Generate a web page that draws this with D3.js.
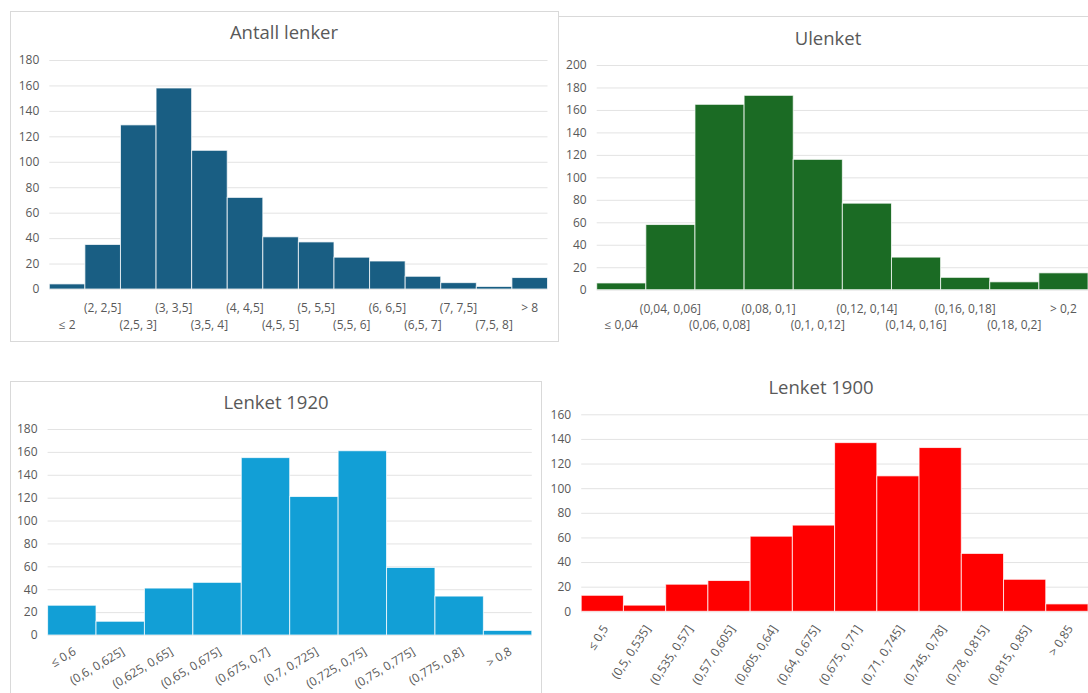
<!DOCTYPE html>
<html>
<head>
<meta charset="utf-8">
<script src="https://cdn.jsdelivr.net/npm/d3@7/dist/d3.min.js"></script>
<style>
  html, body { margin: 0; padding: 0; background: #fff; }
  svg { display: block; }
  text { font-family: "Open Sans", "Liberation Sans", sans-serif; fill: #595959; }
</style>
</head>
<body>
<svg id="chart" width="1088" height="693"></svg>
<script>
// ---------- DATA ----------
const antallCategories = ["≤ 2", "(2, 2,5]", "(2,5, 3]", "(3, 3,5]", "(3,5, 4]", "(4, 4,5]", "(4,5, 5]", "(5, 5,5]", "(5,5, 6]", "(6, 6,5]", "(6,5, 7]", "(7, 7,5]", "(7,5, 8]", "> 8"];
const antallValues = [4, 35, 129, 158, 109, 72, 41, 37, 25, 22, 10, 5, 2, 9];
const antallTicks = [0, 20, 40, 60, 80, 100, 120, 140, 160, 180];

const ulenketCategories = ["≤ 0,04", "(0,04, 0,06]", "(0,06, 0,08]", "(0,08, 0,1]", "(0,1, 0,12]", "(0,12, 0,14]", "(0,14, 0,16]", "(0,16, 0,18]", "(0,18, 0,2]", "> 0,2"];
const ulenketValues = [6, 58, 165, 173, 116, 77, 29, 11, 7, 15];
const ulenketTicks = [0, 20, 40, 60, 80, 100, 120, 140, 160, 180, 200];

const lenket1920Categories = ["≤ 0,6", "(0,6, 0,625]", "(0,625, 0,65]", "(0,65, 0,675]", "(0,675, 0,7]", "(0,7, 0,725]", "(0,725, 0,75]", "(0,75, 0,775]", "(0,775, 0,8]", "> 0,8"];
const lenket1920Values = [26, 12, 41, 46, 155, 121, 161, 59, 34, 4];
const lenket1920Ticks = [0, 20, 40, 60, 80, 100, 120, 140, 160, 180];

const lenket1900Categories = ["≤ 0,5", "(0,5, 0,535]", "(0,535, 0,57]", "(0,57, 0,605]", "(0,605, 0,64]", "(0,64, 0,675]", "(0,675, 0,71]", "(0,71, 0,745]", "(0,745, 0,78]", "(0,78, 0,815]", "(0,815, 0,85]", "> 0,85"];
const lenket1900Values = [13, 5, 22, 25, 61, 70, 137, 110, 133, 47, 26, 6];
const lenket1900Ticks = [0, 20, 40, 60, 80, 100, 120, 140, 160];

// ---------- LAYOUT ----------
const svg = d3.select("#chart");

const panels = [
  { title: "Antall lenker", cats: antallCategories, vals: antallValues, ticks: antallTicks,
    color: "#195E83", box: [10.5, 11.5, 548, 330], titleX: 284, titleY: 39,
    plot: { left: 49.3, right: 547.5, top: 60, bottom: 289 }, labels: "stagger", rows: [308, 325] },
  { title: "Ulenket", cats: ulenketCategories, vals: ulenketValues, ticks: ulenketTicks,
    color: "#1B6B24", topLine: [558.5, 1088, 16.5], titleX: 828, titleY: 45,
    plot: { left: 596.7, right: 1088, top: 65, bottom: 289.7 }, labels: "stagger", rows: [309, 325] },
  { title: "Lenket 1920", cats: lenket1920Categories, vals: lenket1920Values, ticks: lenket1920Ticks,
    color: "#129FD6", box: [10.5, 381.5, 531, 330], titleX: 276, titleY: 409,
    plot: { left: 47.6, right: 531.8, top: 429, bottom: 635 }, labels: "rotate", angle: -31 },
  { title: "Lenket 1900", cats: lenket1900Categories, vals: lenket1900Values, ticks: lenket1900Ticks,
    color: "#FF0000", titleX: 821, titleY: 394,
    plot: { left: 581.2, right: 1088, top: 414.3, bottom: 611.3 }, labels: "rotate", angle: -57 }
];

panels.forEach(p => {
  const g = svg.append("g");
  if (p.box) {
    g.append("rect")
      .attr("x", p.box[0]).attr("y", p.box[1])
      .attr("width", p.box[2]).attr("height", p.box[3])
      .attr("fill", "#fff").attr("stroke", "#d9d9d9").attr("stroke-width", 1);
  }
  if (p.topLine) {
    g.append("line")
      .attr("x1", p.topLine[0]).attr("x2", p.topLine[1])
      .attr("y1", p.topLine[2]).attr("y2", p.topLine[2])
      .attr("stroke", "#d9d9d9").attr("stroke-width", 1);
  }
  g.append("text")
    .attr("x", p.titleX).attr("y", p.titleY)
    .attr("text-anchor", "middle")
    .style("font-size", "18.5px")
    .text(p.title);

  const x = d3.scaleBand().domain(p.cats).range([p.plot.left, p.plot.right]).paddingInner(0).paddingOuter(0);
  const y = d3.scaleLinear().domain([0, d3.max(p.ticks)]).range([p.plot.bottom, p.plot.top]);

  // gridlines
  const grid = g.append("g")
    .attr("transform", `translate(${p.plot.left},0)`)
    .call(d3.axisLeft(y).tickValues(p.ticks).tickSize(-(p.plot.right - p.plot.left)).tickFormat(""));
  grid.select(".domain").remove();
  grid.selectAll("line").attr("stroke", "#e3e3e3").attr("stroke-width", 1);

  // y labels
  const yAx = g.append("g")
    .attr("transform", `translate(${p.plot.left},0)`)
    .call(d3.axisLeft(y).tickValues(p.ticks).tickSize(0).tickPadding(10));
  yAx.select(".domain").remove();
  yAx.selectAll("text").style("font-size", "12px").attr("fill", "#595959").style("font-family", "'Open Sans', sans-serif");

  // bars
  g.append("g").selectAll("rect")
    .data(p.vals)
    .join("rect")
    .attr("x", (d, i) => x(p.cats[i]))
    .attr("y", d => y(d))
    .attr("width", x.bandwidth())
    .attr("height", d => y(0) - y(d))
    .attr("fill", p.color)
    .attr("stroke", "#ffffff")
    .attr("stroke-opacity", 0.75)
    .attr("stroke-width", 1);

  // x labels
  const xAx = g.append("g")
    .attr("transform", `translate(0,${p.plot.bottom})`)
    .call(d3.axisBottom(x).tickSize(0));
  xAx.select(".domain").remove();
  const xt = xAx.selectAll("text")
    .style("font-size", "12px").attr("fill", "#595959")
    .style("font-family", "'Open Sans', sans-serif");
  if (p.labels === "stagger") {
    xt.attr("dy", "0.35em")
      .attr("y", (d, i) => (i % 2 === 1 ? p.rows[0] : p.rows[1]) - p.plot.bottom);
  } else {
    xt.attr("text-anchor", "end")
      .attr("dy", "0.35em")
      .attr("y", 0)
      .attr("transform", `translate(3,15) rotate(${p.angle})`);
  }
});
</script>
</body>
</html>
